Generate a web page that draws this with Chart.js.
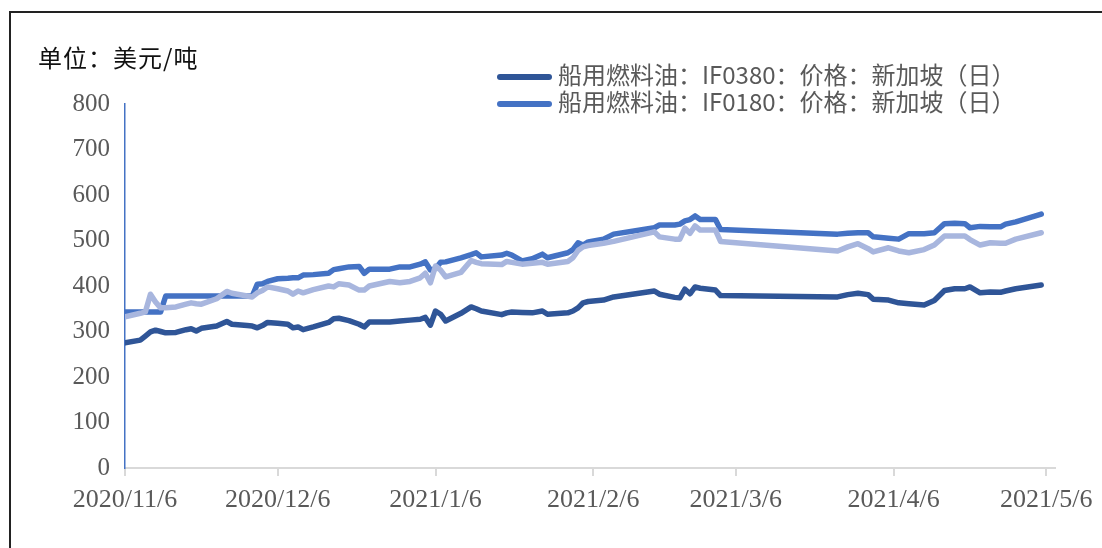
<!DOCTYPE html>
<html>
<head>
<meta charset="utf-8">
<script src="https://cdn.jsdelivr.net/npm/chart.js@4/dist/chart.umd.min.js"></script>
<style>
    html, body { margin: 0; padding: 0; background: #fff; overflow: hidden; }
    #wrap { position: relative; width: 1102px; height: 548px; }
    #frame { position: absolute; left: 9px; top: 11px; width: 1200px; height: 600px; border: 2px solid #222; }
    #unit { position: absolute; left: 38px; top: 43px; font: 24px/28px "Noto Sans CJK SC", sans-serif; letter-spacing: 1px; color: #111; }
    .leg { position: absolute; left: 497px; font: 24px/28px "Noto Sans CJK SC", sans-serif; color: #595959; white-space: nowrap; }
    .leg i { display: inline-block; width: 55px; height: 6px; border-radius: 3px; vertical-align: middle; margin-right: 6px; }
    canvas { position: absolute; left: 0; top: 0; }
</style>
</head>
<body>
<div id="wrap">
    <div id="frame"></div>
    <canvas id="chart" width="1102" height="548"></canvas>
    <div id="unit">单位：美元/吨</div>
    <div class="leg" style="top:60px"><i style="background:#2F5597"></i>船用燃料油：IF0380：价格：新加坡（日）</div>
    <div class="leg" style="top:87px"><i style="background:#4472C4"></i>船用燃料油：IF0180：价格：新加坡（日）</div>
</div>
<script>
const dates = [
    "2020-11-06", "2020-11-09", "2020-11-10", "2020-11-11", "2020-11-12", "2020-11-13", "2020-11-14", "2020-11-16",
    "2020-11-18", "2020-11-19", "2020-11-20", "2020-11-21", "2020-11-24", "2020-11-26", "2020-11-27", "2020-11-30",
    "2020-12-01", "2020-12-02", "2020-12-03", "2020-12-04", "2020-12-06", "2020-12-08", "2020-12-09", "2020-12-10",
    "2020-12-11", "2020-12-13", "2020-12-16", "2020-12-17", "2020-12-18", "2020-12-20", "2020-12-22", "2020-12-23",
    "2020-12-24", "2020-12-26", "2020-12-28", "2020-12-30", "2021-01-01", "2021-01-03", "2021-01-04", "2021-01-05",
    "2021-01-06", "2021-01-07", "2021-01-08", "2021-01-11", "2021-01-13", "2021-01-14", "2021-01-15", "2021-01-19",
    "2021-01-20", "2021-01-21", "2021-01-23", "2021-01-25", "2021-01-27", "2021-01-28", "2021-02-01", "2021-02-02",
    "2021-02-03", "2021-02-04", "2021-02-05", "2021-02-08", "2021-02-10", "2021-02-18", "2021-02-19", "2021-02-22",
    "2021-02-23", "2021-02-24", "2021-02-25", "2021-02-26", "2021-02-27", "2021-03-02", "2021-03-03", "2021-03-26",
    "2021-03-28", "2021-03-30", "2021-04-01", "2021-04-02", "2021-04-05", "2021-04-07", "2021-04-09", "2021-04-12",
    "2021-04-14", "2021-04-16", "2021-04-18", "2021-04-20", "2021-04-21", "2021-04-23", "2021-04-25", "2021-04-27",
    "2021-04-28", "2021-04-30", "2021-05-05"
];

// IF0380 (dark)
const if0380 = [
    275, 281, 290, 299, 303, 300, 297, 298,
    304, 306, 301, 307, 312, 322, 316, 313,
    312, 308, 313, 320, 318, 316, 308, 310,
    304, 310, 320, 328, 329, 324, 316, 310,
    321, 321, 321, 323, 325, 327, 331, 314,
    345, 338, 323, 340, 354, 350, 345, 337,
    341, 343, 342, 341, 345, 338, 341, 345,
    352, 363, 366, 369, 376, 389, 382, 375,
    374, 393, 383, 398, 395, 391, 379, 376,
    381, 384, 381, 371, 369, 363, 361, 358,
    368, 390, 394, 394, 398, 385, 387, 386,
    389, 394, 402
];

// IF0180 (medium)
const if0180 = [
    343, 343, 343, 343, 343, 343, 378, 378,
    378, 378, 378, 378, 378, 378, 378, 378,
    378, 404, 405, 410, 416, 417, 418, 418,
    424, 425, 428, 436, 438, 442, 443, 428,
    437, 437, 437, 442, 442, 448, 453, 435,
    438, 452, 453, 462, 469, 473, 464, 468,
    472, 468, 455, 460, 470, 462, 473, 480,
    495, 490, 497, 503, 514, 528, 534, 534,
    536, 543, 546, 554, 546, 546, 524, 514,
    516, 517, 517, 508, 505, 503, 515, 515,
    517, 537, 538, 537, 528, 531, 530, 530,
    536, 541, 558
];

// third series, no legend entry (light)
const seriesLight = [
    332, 340, 343, 382, 365, 352, 352, 354,
    360, 363, 361, 360, 372, 388, 384, 378,
    376, 385, 390, 398, 394, 389, 382, 389,
    385, 392, 400, 398, 405, 402, 391, 391,
    400, 405, 410, 407, 410, 418, 428, 407,
    444, 435, 420, 430, 456, 452, 449, 447,
    454, 452, 448, 450, 452, 448, 454, 462,
    478, 486, 489, 494, 498, 519, 508, 503,
    503, 527, 516, 532, 523, 523, 498, 477,
    486, 493, 482, 475, 484, 477, 473, 480,
    490, 510, 510, 510, 502, 490, 495, 494,
    494, 503, 517
];

const tickLabels = ["2020/11/6", "2020/12/6", "2021/1/6", "2021/2/6", "2021/3/6", "2021/4/6", "2021/5/6"];

function dayIndex(s) {
    const p = s.split(/[-\/]/).map(Number);
    const a = Date.UTC(2020, 10, 6);
    return Math.round((Date.UTC(p[0], p[1] - 1, p[2]) - a) / 86400000);
}

const tickDays = tickLabels.map(dayIndex);
const pts = arr => arr.map((v, i) => ({ x: dayIndex(dates[i]), y: v }));

const lineStyle = {
    borderWidth: 5.5,
    pointRadius: 0,
    tension: 0,
    borderJoinStyle: "round",
    borderCapStyle: "round",
    fill: false
};

new Chart(document.getElementById("chart").getContext("2d"), {
    type: "line",
    data: {
        datasets: [
            { ...lineStyle, label: "船用燃料油：IF0380：价格：新加坡（日）", data: pts(if0380), borderColor: "#2F5597", order: 3 },
            { ...lineStyle, label: "船用燃料油：IF0180：价格：新加坡（日）", data: pts(if0180), borderColor: "#4472C4", order: 2 },
            { ...lineStyle, label: "", data: pts(seriesLight), borderColor: "#A8B6DE", order: 1 }
        ]
    },
    options: {
        responsive: false,
        animation: false,
        layout: { padding: { left: 0, top: 104, right: 46, bottom: 0 } },
        plugins: { legend: { display: false }, tooltip: { enabled: false } },
        scales: {
            x: {
                type: "linear",
                min: 0,
                max: 182.8,
                afterBuildTicks: scale => { scale.ticks = tickDays.map(v => ({ value: v })); },
                afterFit: scale => { scale.height = 80; },
                grid: { drawOnChartArea: false, drawTicks: true, tickLength: 8, color: "#D9D9D9", lineWidth: 2 },
                border: { color: "#D9D9D9", width: 2 },
                ticks: {
                    autoSkip: false,
                    maxRotation: 0,
                    padding: 9,
                    color: "#595959",
                    font: { family: "Liberation Serif", size: 26 },
                    callback: v => tickLabels[tickDays.indexOf(v)]
                }
            },
            y: {
                min: 0,
                max: 800,
                afterFit: scale => { scale.width = 125; },
                grid: { display: false, drawTicks: false },
                border: { display: true, color: "#4472C4", width: 1.5 },
                ticks: {
                    stepSize: 100,
                    padding: 15,
                    color: "#595959",
                    font: { family: "Liberation Serif", size: 25 }
                }
            }
        }
    }
});
</script>
</body>
</html>
